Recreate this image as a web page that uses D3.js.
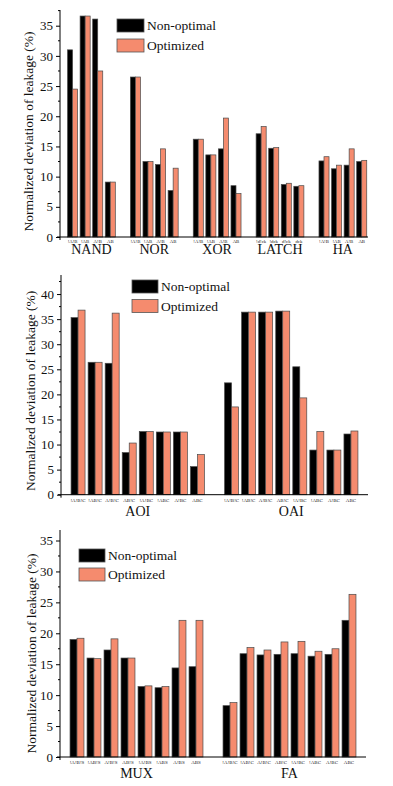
<!DOCTYPE html>
<html><head><meta charset="utf-8">
<script src="https://cdn.jsdelivr.net/npm/d3@7"></script>
<style>
html,body{margin:0;padding:0;background:#fff;}
svg{display:block;}
text{font-family:"Liberation Serif","Times New Roman",serif;}
</style></head>
<body>
<svg id="chart" width="393" height="786"></svg>
<script>
// ---------- DATA ----------
const seriesNames = ["Non-optimal", "Optimized"];
const yLabel = "Normalized deviation of leakage (%)";

// Panel 1
const groups1 = ["NAND", "NOR", "XOR", "LATCH", "HA"];
const cats2in = ["!A!B", "!AB", "A!B", "AB"];
const catsLatch = ["!d!ck", "!dck", "d!ck", "dck"];
const cats1 = [cats2in, cats2in, cats2in, catsLatch, cats2in];
const nonOpt1 = [31.0, 36.6, 36.1, 9.1,  26.5, 12.5, 12.0, 7.7,  16.2, 13.6, 14.6, 8.5,  17.1, 14.7, 8.7, 8.4,  12.6, 11.3, 11.9, 12.5];
const opt1    = [24.5, 36.6, 27.5, 9.1,  26.5, 12.5, 14.6, 11.4, 16.2, 13.6, 19.7, 7.2,  18.3, 14.8, 8.9, 8.5,  13.3, 11.9, 14.6, 12.7];
const yTicks1 = [0, 5, 10, 15, 20, 25, 30, 35];

// Panel 2
const groups2 = ["AOI", "OAI"];
const cats3inC = ["!A!B!C", "!AB!C", "A!B!C", "AB!C", "!A!BC", "!ABC", "A!BC", "ABC"];
const cats2 = [cats3inC, cats3inC];
const nonOpt2 = [35.3, 26.4, 26.2, 8.4, 12.6, 12.5, 12.5, 5.6,   22.3, 36.4, 36.4, 36.6, 25.5, 8.9, 8.9, 12.1];
const opt2    = [36.8, 26.4, 36.2, 10.3, 12.6, 12.5, 12.5, 8.0,  17.5, 36.4, 36.4, 36.6, 19.3, 12.6, 8.9, 12.7];
const yTicks2 = [0, 5, 10, 15, 20, 25, 30, 35, 40];

// Panel 3
const groups3 = ["MUX", "FA"];
const catsMux = ["!A!B!S", "!AB!S", "A!B!S", "AB!S", "!A!BS", "!ABS", "A!BS", "ABS"];
const cats3 = [catsMux, cats3inC];
const nonOpt3 = [19.0, 16.0, 17.3, 16.0, 11.4, 11.2, 14.4, 14.6,  8.3, 16.7, 16.5, 16.6, 16.7, 16.3, 16.6, 22.1];
const opt3    = [19.2, 15.9, 19.1, 16.0, 11.5, 11.4, 22.1, 22.1,  8.8, 17.7, 17.3, 18.6, 18.7, 17.1, 17.5, 26.3];
const yTicks3 = [0, 5, 10, 15, 20, 25, 30, 35];

// ---------- STYLE ----------
const colors = ["#000000", "#F58B6E"];
const barStroke = "#4a4a4a";

const svg = d3.select("#chart");

function drawPanel(cfg) {
  const { groups, cats, nonOpt, opt, yTicks, left, right, top, bottom, yMax,
          catFont, catBase, groupBase, groupFont, legend, titleX } = cfg;
  const g = svg.append("g");

  const slots = [];
  let s = 0;
  const groupCenters = [];
  let k = 0;
  groups.forEach((gr, gi) => {
    const start = s;
    cats[gi].forEach(c => { slots.push({ slot: s, cat: c, nv: nonOpt[k], ov: opt[k] }); s++; k++; });
    groupCenters.push({ name: gr, c: (start + s - 1) / 2 });
    s++; // gap
  });
  const lastSlot = s - 2;

  const x = d3.scaleLinear().domain([-1, lastSlot + cfg.rightPad]).range([left, right]);
  const y = d3.scaleLinear().domain([0, yMax]).range([bottom, top]);
  const slotW = x(1) - x(0);
  const bw = slotW * cfg.barFrac;

  const bars = g.append("g");
  bars.selectAll("rect.non").data(slots).join("rect")
    .attr("x", d => x(d.slot) - bw).attr("width", bw)
    .attr("y", d => y(d.nv)).attr("height", d => y(0) - y(d.nv))
    .attr("fill", colors[0]).attr("stroke", barStroke).attr("stroke-width", 0.7);
  bars.selectAll("rect.opt").data(slots).join("rect")
    .attr("x", d => x(d.slot)).attr("width", bw)
    .attr("y", d => y(d.ov)).attr("height", d => y(0) - y(d.ov))
    .attr("fill", colors[1]).attr("stroke", barStroke).attr("stroke-width", 0.7);

  const yAxis = d3.axisLeft(y).tickValues(yTicks).tickSize(4).tickSizeOuter(0).tickPadding(3)
    .tickFormat(d3.format("d"));
  const ya = g.append("g").attr("transform", `translate(${left},0)`).call(yAxis);
  ya.select(".domain").attr("d", `M0,${top}V${bottom}`).attr("stroke", "#000");
  ya.selectAll(".tick line").attr("stroke", "#000");
  ya.selectAll(".tick text").attr("font-size", 13).attr("fill", "#111");
  const minor = d3.range(2.5, yMax, 5);
  ya.selectAll("line.minor").data(minor).join("line").attr("class", "minor")
    .attr("x1", -2).attr("x2", 0).attr("y1", d => y(d)).attr("y2", d => y(d)).attr("stroke", "#000");

  g.append("line").attr("x1", left - 3).attr("x2", right).attr("y1", bottom).attr("y2", bottom)
    .attr("stroke", "#000");
  g.append("line").attr("x1", left).attr("x2", left).attr("y1", bottom).attr("y2", bottom + 3)
    .attr("stroke", "#000");

  g.selectAll("text.cat").data(slots).join("text")
    .attr("x", d => x(d.slot)).attr("y", catBase)
    .attr("text-anchor", "middle").attr("font-size", catFont).attr("fill", "#222")
    .text(d => d.cat);

  g.selectAll("text.grp").data(groupCenters).join("text")
    .attr("x", d => x(d.c)).attr("y", groupBase)
    .attr("text-anchor", "middle").attr("font-size", groupFont).attr("fill", "#111")
    .text(d => d.name);

  g.append("text")
    .attr("transform", `translate(${titleX},${(top + bottom) / 2 + cfg.titleShift}) rotate(-90)`)
    .attr("text-anchor", "middle").attr("font-size", 13.5).attr("fill", "#111")
    .text(yLabel);

  const lg = g.append("g");
  seriesNames.forEach((n, i) => {
    lg.append("rect").attr("x", legend.x).attr("y", legend.y + i * legend.dy)
      .attr("width", legend.w).attr("height", legend.h)
      .attr("fill", colors[i]).attr("stroke", "#555").attr("stroke-width", 0.8);
    lg.append("text").attr("x", legend.x + legend.w + 3).attr("y", legend.y + i * legend.dy + legend.h - 2)
      .attr("font-size", 13.5).attr("fill", "#111").text(n);
  });
}

drawPanel({
  groups: groups1, cats: cats1, nonOpt: nonOpt1, opt: opt1, yTicks: yTicks1,
  left: 60, right: 368, top: 10, bottom: 237, yMax: 37.6, rightPad: 0.5, barFrac: 0.4,
  catFont: 4.8, catBase: 242.5, groupBase: 254, groupFont: 14,
  legend: { x: 117, y: 19, w: 27, h: 13, dy: 20 }, titleX: 33, titleShift: 8
});
drawPanel({
  groups: groups2, cats: cats2, nonOpt: nonOpt2, opt: opt2, yTicks: yTicks2,
  left: 61, right: 368, top: 275, bottom: 494.7, yMax: 43.8, rightPad: 1, barFrac: 0.41,
  catFont: 5, catBase: 501.5, groupBase: 515.5, groupFont: 14,
  legend: { x: 132, y: 280, w: 26, h: 13, dy: 19.5 }, titleX: 35, titleShift: 6
});
drawPanel({
  groups: groups3, cats: cats3, nonOpt: nonOpt3, opt: opt3, yTicks: yTicks3,
  left: 60, right: 366, top: 530, bottom: 757, yMax: 36.7, rightPad: 1, barFrac: 0.41,
  catFont: 5, catBase: 763.5, groupBase: 777.5, groupFont: 14,
  legend: { x: 79, y: 549, w: 26, h: 13, dy: 19 }, titleX: 36, titleShift: 10
});
</script>
</body></html>
